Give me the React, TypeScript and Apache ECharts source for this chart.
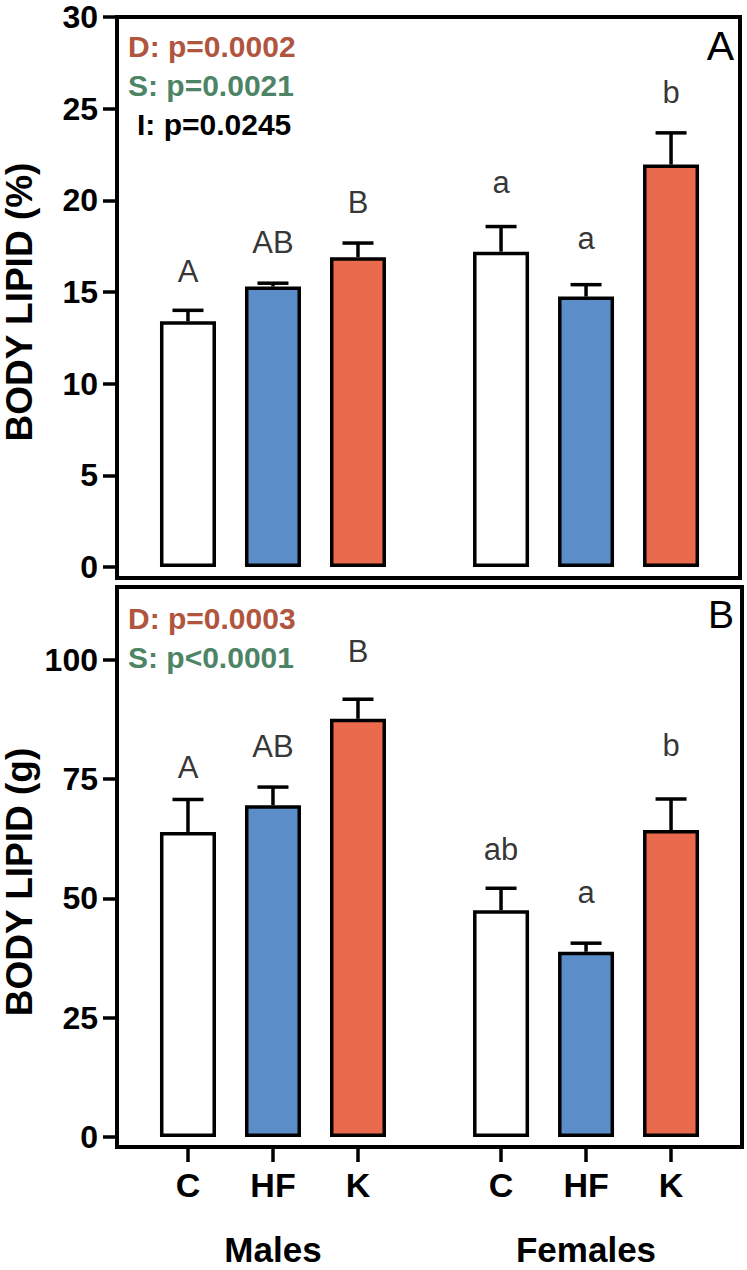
import React, { useEffect, useRef } from 'react';
import * as echarts from 'echarts';

// ---- data ----
const diets = ['C', 'HF', 'K'];
const sexes = ['Males', 'Females'];
const dietColors = ['#FFFFFF', '#5B8EC9', '#EA6A4D'];

const pctMean = [13.4, 15.3, 16.9, 17.2, 14.75, 21.95];
const pctSem = [0.6, 0.18, 0.77, 1.37, 0.65, 1.73];
const pctLetters = ['A', 'AB', 'B', 'a', 'a', 'b'];
const pctLetterY = [16.1, 17.7, 19.9, 21.0, 17.9, 25.9];

const gMean = [63.9, 69.5, 87.6, 47.5, 38.8, 64.3];
const gSem = [6.8, 3.8, 4.1, 4.6, 1.8, 6.5];
const gLetters = ['A', 'AB', 'B', 'ab', 'a', 'b'];
const gLetterY = [77.3, 81.7, 101.6, 60.2, 51.2, 82.1];
const gTicks = [0, 25, 50, 75, 100];

const statsA = ['D: p=0.0002', 'S: p=0.0021', 'I: p=0.0245'];
const statsB = ['D: p=0.0003', 'S: p<0.0001'];
const statColors = ['#B0553E', '#4E8466', '#000000'];

// category layout on the x axis (in units of one bar slot)
const groupStart = [0.835, 4.518];
const xMax = 7.341;
const xPos: number[] = [];
groupStart.forEach((g) => diets.forEach((_, i) => xPos.push(g + i)));

const FONT = '"Liberation Sans", Arial, Helvetica, sans-serif';
const GRID_LEFT = 117;
const GRID_W = 624;
const UNIT = GRID_W / xMax;

function barData(mean: number[]) {
  return mean.map((m, k) => ({
    value: [xPos[k], m],
    itemStyle: { color: dietColors[k % 3] },
  }));
}

function errSeries(mean: number[], sem: number[], idx: number) {
  return {
    type: 'custom',
    xAxisIndex: idx,
    yAxisIndex: idx,
    clip: false,
    z: 5,
    encode: { x: 0, y: 1 },
    data: mean.map((m, k) => [xPos[k], m, sem[k]]),
    renderItem: (params: any, api: any) => {
      const x = api.value(0);
      const m = api.value(1);
      const s = api.value(2);
      const p0 = api.coord([x, m]);
      const p1 = api.coord([x, m + s]);
      const st = { stroke: '#000', lineWidth: 3.5 };
      return {
        type: 'group',
        children: [
          { type: 'line', shape: { x1: p0[0], y1: p0[1], x2: p1[0], y2: p1[1] }, style: st },
          { type: 'line', shape: { x1: p1[0] - 15.5, y1: p1[1], x2: p1[0] + 15.5, y2: p1[1] }, style: st },
        ],
      };
    },
  };
}

function letterSeries(ys: number[], letters: string[], idx: number) {
  return {
    type: 'scatter',
    xAxisIndex: idx,
    yAxisIndex: idx,
    symbolSize: 0,
    z: 6,
    data: ys.map((y, k) => [xPos[k], y, letters[k]]),
    label: {
      show: true,
      position: 'inside',
      formatter: (p: any) => p.value[2],
      fontSize: 31,
      color: '#000',
      fontFamily: FONT,
      fontWeight: 'normal',
    },
  };
}

function txt(text: string, x: number, y: number, size: number, weight: string, color: string, align: string, rot = 0) {
  return {
    type: 'text',
    x,
    y,
    rotation: rot,
    z: 10,
    style: {
      text,
      fill: color,
      fontSize: size,
      fontWeight: weight,
      fontFamily: FONT,
      align,
      textAlign: align,
      verticalAlign: 'middle',
      textVerticalAlign: 'middle',
    },
  };
}

const App: React.FC = () => {
  const ref = useRef<HTMLDivElement>(null);

  useEffect(() => {
    if (!ref.current) return;
    const chart = echarts.init(ref.current, undefined, { renderer: 'svg' });

    const yAxisCommon = {
      type: 'value',
      axisLine: { show: true, onZero: false, lineStyle: { color: '#000', width: 4 } },
      axisTick: { show: true, inside: false, length: 14, lineStyle: { color: '#000', width: 3.5 } },
      axisLabel: { fontSize: 32, fontWeight: 'bold', color: '#000', margin: 19, fontFamily: FONT },
      splitLine: { show: false },
    };

    const graphics: any[] = [
      { type: 'rect', z: 10, shape: { x: 117, y: 17, width: 623, height: 561 }, style: { fill: 'none', stroke: '#000', lineWidth: 4 } },
      { type: 'rect', z: 10, shape: { x: 117, y: 587, width: 625, height: 560 }, style: { fill: 'none', stroke: '#000', lineWidth: 4 } },
      txt('BODY LIPID (%)', 19, 302, 37, 'bold', '#000', 'center', Math.PI / 2),
      txt('BODY LIPID (g)', 19, 882, 37, 'bold', '#000', 'center', Math.PI / 2),
      txt('A', 734, 46, 41, 'normal', '#000', 'right'),
      txt('B', 734, 614, 39, 'normal', '#000', 'right'),
    ];
    const statYA = [46, 85, 124];
    statsA.forEach((s, i) => graphics.push(txt(s, i === 2 ? 137 : 128, statYA[i], 30, 'bold', statColors[i], 'left')));
    const statYB = [618, 657];
    statsB.forEach((s, i) => graphics.push(txt(s, 128, statYB[i], 30, 'bold', statColors[i], 'left')));
    sexes.forEach((s, g) =>
      graphics.push(txt(s, GRID_LEFT + (groupStart[g] + 1) * UNIT, 1249, 35, 'bold', '#000', 'center'))
    );

    chart.setOption({
      animation: false,
      backgroundColor: '#fff',
      grid: [
        { left: GRID_LEFT, top: 17, width: GRID_W, height: 550 },
        { left: GRID_LEFT, top: 588, width: GRID_W, height: 549 },
      ],
      xAxis: [
        { type: 'value', gridIndex: 0, min: 0, max: xMax, show: false, splitLine: { show: false } },
        {
          type: 'value',
          gridIndex: 1,
          min: 0,
          max: xMax,
          offset: 10,
          position: 'bottom',
          axisLine: { show: true, onZero: false, lineStyle: { color: '#000', width: 4 } },
          axisTick: { show: true, inside: false, length: 15, customValues: xPos, lineStyle: { color: '#000', width: 3.5 } },
          axisLabel: {
            customValues: xPos,
            fontSize: 34,
            fontWeight: 'bold',
            color: '#000',
            margin: 21,
            fontFamily: FONT,
            formatter: (v: number) => {
              const k = xPos.findIndex((p) => Math.abs(p - v) < 0.01);
              return k >= 0 ? diets[k % 3] : '';
            },
          },
          splitLine: { show: false },
        },
      ],
      yAxis: [
        { ...yAxisCommon, gridIndex: 0, min: 0, max: 30, interval: 5 },
        {
          ...yAxisCommon,
          gridIndex: 1,
          min: 0,
          max: 115,
          interval: 25,
          axisTick: { ...yAxisCommon.axisTick, customValues: gTicks },
          axisLabel: { ...yAxisCommon.axisLabel, customValues: gTicks },
        },
      ],
      series: [
        {
          type: 'bar',
          xAxisIndex: 0,
          yAxisIndex: 0,
          barWidth: 56,
          data: barData(pctMean),
          itemStyle: { borderColor: '#000', borderWidth: 3.5 },
        },
        errSeries(pctMean, pctSem, 0),
        letterSeries(pctLetterY, pctLetters, 0),
        {
          type: 'bar',
          xAxisIndex: 1,
          yAxisIndex: 1,
          barWidth: 56,
          data: barData(gMean),
          itemStyle: { borderColor: '#000', borderWidth: 3.5 },
        },
        errSeries(gMean, gSem, 1),
        letterSeries(gLetterY, gLetters, 1),
      ],
      graphic: graphics,
    });

    return () => chart.dispose();
  }, []);

  return <div ref={ref} style={{ position: 'fixed', left: 0, top: 0, width: 747, height: 1270 }} />;
};

export default App;
